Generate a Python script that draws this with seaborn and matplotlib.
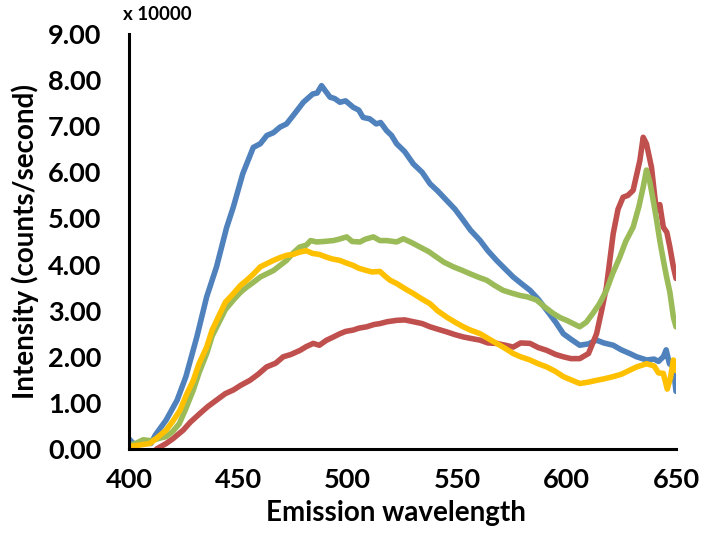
import numpy as np
import pandas as pd
import matplotlib
matplotlib.use("Agg")
import matplotlib.pyplot as plt
import seaborn as sns

# wavelength (nm) / intensity (x 10000 counts/second)
blue_wl = [400, 402, 405, 408, 410, 412, 417, 422, 426, 431, 435.5, 440, 444.6, 447.7, 452, 456.8,
           460, 463, 466, 469, 472, 475, 479.7, 484, 486, 488, 490, 491.9, 494, 496.4, 499, 502.5,
           505, 507, 510, 513, 515, 517.8, 520, 522.3, 526, 530, 534, 537.6, 541, 545.2, 549, 552.8,
           556, 560.5, 564, 568, 572, 575.6, 579, 583.3, 587, 590.9, 595, 598.5, 602, 606, 610,
           613.7, 617, 621.3, 625, 628.9, 632, 636.6, 640, 642, 644.2, 645.5, 647, 648.8, 650]
blue_val = [0.22, 0.12, 0.10, 0.14, 0.12, 0.30, 0.63, 1.06, 1.57, 2.43, 3.30, 3.95, 4.80, 5.25, 5.97, 6.54,
            6.62, 6.80, 6.86, 6.98, 7.05, 7.23, 7.52, 7.70, 7.72, 7.88, 7.75, 7.63, 7.60, 7.52, 7.55, 7.41,
            7.35, 7.19, 7.16, 7.05, 7.08, 6.90, 6.80, 6.62, 6.45, 6.18, 6.00, 5.75, 5.60, 5.39, 5.20, 4.96,
            4.75, 4.52, 4.30, 4.09, 3.90, 3.73, 3.60, 3.44, 3.25, 3.01, 2.75, 2.50, 2.38, 2.25, 2.28,
            2.36, 2.30, 2.25, 2.15, 2.07, 2.00, 1.93, 1.95, 1.90, 2.00, 2.15, 1.85, 1.78, 1.25]

red_wl = [412.6, 417, 420, 424.8, 428, 432.4, 436, 440, 444, 447.7, 451, 455.3, 459, 462.9, 467, 470.5,
          474, 478.2, 481, 484.2, 487, 490.3, 493, 496.4, 499, 502.5, 505, 508.6, 512, 514.7, 518,
          522.3, 526, 530, 534, 537.6, 541, 545.2, 549, 552.8, 556, 560.5, 564, 568, 572, 575.6, 579,
          583.3, 587, 590.9, 595, 598.5, 602, 606, 610, 613.7, 616, 618.2, 621.3, 623.5, 625.8, 628,
          630.4, 633.5, 635, 636.5, 638.8, 641, 642.6, 644.2, 645.8, 647.2, 648.8, 650]
red_val = [0.00, 0.12, 0.22, 0.41, 0.58, 0.77, 0.92, 1.06, 1.20, 1.28, 1.38, 1.49, 1.62, 1.78, 1.86, 2.00,
           2.05, 2.14, 2.22, 2.29, 2.25, 2.36, 2.42, 2.50, 2.55, 2.58, 2.62, 2.65, 2.70, 2.72, 2.76,
           2.79, 2.80, 2.76, 2.72, 2.65, 2.60, 2.54, 2.48, 2.43, 2.40, 2.36, 2.30, 2.29, 2.25, 2.21, 2.30,
           2.29, 2.20, 2.14, 2.05, 2.00, 1.96, 1.96, 2.07, 2.50, 3.00, 3.51, 4.67, 5.20, 5.46, 5.50,
           5.61, 6.26, 6.76, 6.62, 6.11, 5.17, 5.30, 4.81, 4.70, 4.38, 3.95, 3.70]

green_wl = [400, 403, 406.5, 410, 413, 417, 420, 423, 426, 429.4, 432, 435.5, 438, 441.6, 444, 447.7,
            451, 453.8, 457, 460, 463, 466, 469, 472, 475, 478, 481, 483, 485.8, 489, 493.4, 496, 499.5,
            502, 505.6, 508, 511.7, 514.7, 517.8, 522.3, 525.4, 529, 533, 537, 540.6, 544, 548.3, 552,
            555.9, 560, 563.5, 567, 571, 575, 578.7, 582, 586.3, 590, 593.9, 597, 600, 603, 606, 609,
            612, 615, 618.2, 621, 624.3, 627, 630.4, 633, 635, 636.5, 638, 639.6, 641, 642.6, 644.2,
            645.7, 647.2, 648.8, 650]
green_val = [0.08, 0.12, 0.20, 0.18, 0.22, 0.27, 0.38, 0.55, 0.88, 1.28, 1.65, 2.07, 2.45, 2.79, 3.02, 3.23,
             3.40, 3.51, 3.62, 3.73, 3.80, 3.87, 3.98, 4.09, 4.25, 4.38, 4.42, 4.52, 4.49, 4.50, 4.52, 4.55, 4.60,
             4.50, 4.49, 4.55, 4.60, 4.52, 4.52, 4.49, 4.56, 4.48, 4.38, 4.28, 4.16, 4.05, 3.95, 3.88,
             3.80, 3.72, 3.66, 3.55, 3.44, 3.38, 3.33, 3.30, 3.23, 3.08, 2.94, 2.85, 2.79, 2.72, 2.65, 2.75,
             2.94, 3.15, 3.44, 3.80, 4.16, 4.50, 4.81, 5.25, 5.68, 6.05, 5.80, 5.39, 5.00, 4.52, 4.10,
             3.73, 3.40, 2.86, 2.65]

yellow_wl = [400, 404, 409.6, 413, 417, 420, 423.3, 426, 429.4, 432, 435.5, 438, 441.6, 444, 447.7, 451,
             453.8, 457, 460, 463, 466, 469, 472, 475, 478, 481, 484, 487, 490.3, 493, 496.4, 499, 502.5,
             505, 508.6, 511, 514.7, 517, 519.3, 522.3, 526, 530, 534, 537.6, 541, 545.2, 549, 552.8, 556,
             560.5, 564, 568, 572, 575.6, 579, 583.3, 587, 590.9, 595, 598.5, 602, 606, 610, 613.7, 617,
             621.3, 625, 628.9, 632, 636.6, 640, 642, 644.2, 646, 647.5, 648.8, 650]
yellow_val = [0.05, 0.08, 0.12, 0.25, 0.41, 0.60, 0.84, 1.15, 1.49, 1.85, 2.21, 2.58, 2.94, 3.18, 3.37, 3.55,
              3.66, 3.80, 3.95, 4.02, 4.09, 4.15, 4.20, 4.22, 4.27, 4.30, 4.24, 4.22, 4.16, 4.12, 4.09, 4.04, 3.98,
              3.92, 3.87, 3.84, 3.85, 3.75, 3.66, 3.59, 3.48, 3.37, 3.25, 3.15, 3.00, 2.86, 2.75, 2.65, 2.58,
              2.50, 2.40, 2.29, 2.18, 2.07, 2.00, 1.93, 1.85, 1.78, 1.68, 1.57, 1.50, 1.42, 1.45, 1.49, 1.52,
              1.57, 1.62, 1.71, 1.78, 1.85, 1.80, 1.65, 1.64, 1.30, 1.55, 1.93, 1.70]

series_names = ["blue", "red", "green", "yellow"]
colors = {"blue": "#4F81BD", "red": "#C0504D", "green": "#9BBB59", "yellow": "#FFC000"}
x_ticks = [400, 450, 500, 550, 600, 650]
y_ticks = [0, 1, 2, 3, 4, 5, 6, 7, 8, 9]

frames = []
for name, wl, val in [("blue", blue_wl, blue_val), ("red", red_wl, red_val),
                      ("green", green_wl, green_val), ("yellow", yellow_wl, yellow_val)]:
    frames.append(pd.DataFrame({"wavelength": wl, "intensity": val, "series": name}))
df = pd.concat(frames, ignore_index=True)

sns.set_theme(style="white")
plt.rcParams["font.family"] = ["Lato", "DejaVu Sans"]

fig = plt.figure(figsize=(7.04, 5.37), dpi=100)
ax = fig.add_axes([129 / 704, 1 - 449 / 537, (676 - 129) / 704, (449 - 34) / 537])

sns.lineplot(data=df, x="wavelength", y="intensity", hue="series", hue_order=series_names,
             palette=colors, linewidth=4.0, sort=False, estimator=None, legend=False, ax=ax)

ax.set_xlim(400, 650)
ax.set_ylim(0, 9)
ax.set_xticks(x_ticks)
ax.set_yticks(y_ticks)
ax.set_yticklabels([f"{v:.2f}" for v in y_ticks])
for lbl in ax.get_xticklabels() + ax.get_yticklabels():
    lbl.set_fontweight("bold")
    lbl.set_fontsize(19.5)
    lbl.set_color("black")

ax.set_xlabel("Emission wavelength", fontsize=20, fontweight="bold", color="black")
ax.set_ylabel("Intensity (counts/second)", fontsize=20, fontweight="bold", color="black")
ax.xaxis.set_label_coords(0.488, -64 / 415)
ax.xaxis.label.set_va("center")
ax.yaxis.set_label_coords(-104 / 547, 0.5)
ax.yaxis.label.set_va("center")

for side in ["top", "right"]:
    ax.spines[side].set_visible(False)
for side in ["left", "bottom"]:
    ax.spines[side].set_color("black")
    ax.spines[side].set_linewidth(2.2)
ax.tick_params(axis="both", direction="out", length=6, width=2.2, color="black")
ax.tick_params(axis="x", pad=8)
ax.tick_params(axis="y", pad=14)

fig.text(123 / 704, 1 - 15 / 537, "x 10000", fontsize=13.5, fontweight="bold", color="black",
         ha="left", va="center")

fig.savefig("out.png", dpi=100)
